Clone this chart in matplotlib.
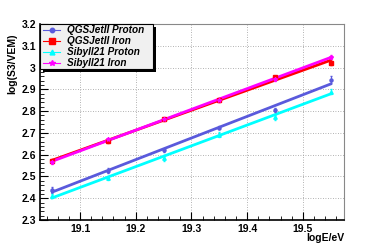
import numpy as np
import matplotlib
matplotlib.use('Agg')
import matplotlib.pyplot as plt
from matplotlib.ticker import MultipleLocator, FormatStrFormatter
from matplotlib.patches import Rectangle

plt.rcParams['font.family'] = ['Liberation Sans', 'DejaVu Sans']

log_e = [19.05, 19.15, 19.25, 19.35, 19.45, 19.55]

qgs_proton = [2.438, 2.527, 2.620, 2.724, 2.805, 2.945]
qgs_proton_err = [0.015, 0.010, 0.008, 0.008, 0.008, 0.015]
qgs_iron = [2.573, 2.662, 2.762, 2.850, 2.955, 3.022]
qgs_iron_err = [0.008, 0.008, 0.008, 0.008, 0.008, 0.010]
sib_proton = [2.410, 2.494, 2.585, 2.692, 2.772, 2.890]
sib_proton_err = [0.008, 0.008, 0.012, 0.010, 0.012, 0.010]
sib_iron = [2.565, 2.670, 2.765, 2.852, 2.948, 3.048]
sib_iron_err = [0.008, 0.008, 0.008, 0.008, 0.008, 0.008]

labels = ['QGSJetII Proton', 'QGSJetII Iron', 'Sibyll21 Proton', 'Sibyll21 Iron']
colors = ['#5a5adc', '#ff0000', '#00ffff', '#ff00ff']
markers = ['o', 's', '^', '*']
msizes = [2.2, 3, 2.5, 3]

fig = plt.figure(figsize=(3.82, 2.45), dpi=100)
ax = fig.add_axes([0.1047, 0.102, 0.7958, 0.800])

series = [(qgs_proton, qgs_proton_err), (qgs_iron, qgs_iron_err),
          (sib_proton, sib_proton_err), (sib_iron, sib_iron_err)]

x = np.array(log_e)
for i, (vals, errs) in enumerate(series):
    ax.errorbar(x, vals, yerr=errs, fmt=markers[i], color=colors[i],
                ms=msizes[i], elinewidth=0.8, capsize=1, zorder=3)
    k, b = np.polyfit(x, vals, 1)
    ax.plot(x[[0, -1]], k * x[[0, -1]] + b, color=colors[i], lw=2, zorder=2)

ax.set_xlim(19.028, 19.574)
ax.set_ylim(2.3, 3.2)
ax.xaxis.set_major_locator(MultipleLocator(0.1))
ax.xaxis.set_minor_locator(MultipleLocator(0.02))
ax.yaxis.set_major_locator(MultipleLocator(0.1))
ax.yaxis.set_minor_locator(MultipleLocator(0.02))
ax.xaxis.set_major_formatter(FormatStrFormatter('%g'))
ax.yaxis.set_major_formatter(FormatStrFormatter('%g'))
ax.grid(True, which='major', ls=(0, (1, 2)), color='#999999', lw=0.6)
ax.tick_params(which='both', direction='in', top=False, right=False)
ax.tick_params(which='major', length=6, width=0.8, labelsize=7.5, pad=3)
ax.tick_params(which='minor', length=3, width=0.6)
for lab in ax.get_xticklabels() + ax.get_yticklabels():
    lab.set_fontweight('bold')
for side in ['top', 'right']:
    ax.spines[side].set_color('#888888')
for side in ['left', 'bottom']:
    ax.spines[side].set_linewidth(1.2)

fig.text(0.9005, 0.028, 'logE/eV', ha='right', va='center', fontsize=7.5, fontweight='bold')
fig.text(0.031, 0.865, 'log(S3/VEM)', rotation=90, ha='center', va='top',
         fontsize=7.5, fontweight='bold')

# legend box with shadow, ROOT style
lx0, ly0, lw, lh = 0.0, 0.77, 0.372, 0.23
ax.add_patch(Rectangle((lx0 + 0.01, ly0 - 0.015), lw, lh, transform=ax.transAxes,
                       facecolor='black', edgecolor='none', zorder=4, clip_on=False))
ax.add_patch(Rectangle((lx0, ly0), lw, lh, transform=ax.transAxes,
                       facecolor='#f0f0f0', edgecolor='black', lw=0.8, zorder=5, clip_on=False))
for i in range(4):
    yy = ly0 + lh - (i + 0.5) * lh / 4
    ax.plot([0.01, 0.066], [yy, yy], transform=ax.transAxes, color=colors[i], lw=0.8, zorder=6)
    ax.plot([0.038], [yy], transform=ax.transAxes, marker=markers[i], color=colors[i],
            ms=msizes[i] + 1, zorder=6)
    ax.text(0.089, yy, labels[i], transform=ax.transAxes, ha='left', va='center',
            fontsize=7.2, fontweight='bold', fontstyle='italic', zorder=6)

fig.savefig('out.png', dpi=100)
